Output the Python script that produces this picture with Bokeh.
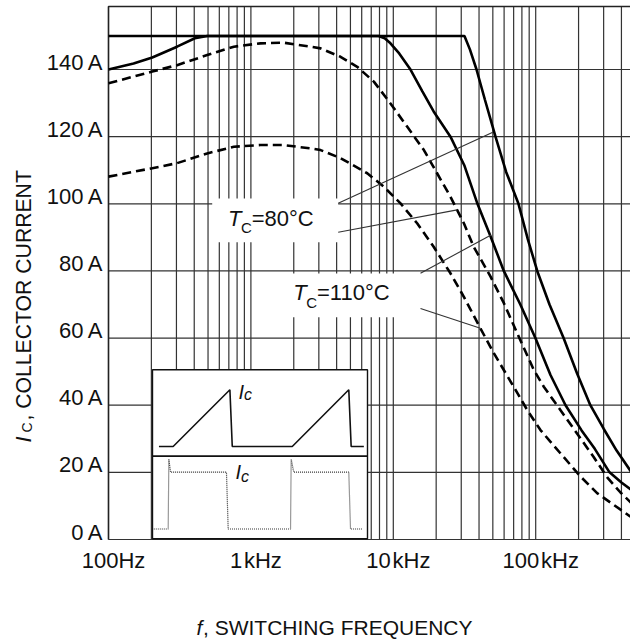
import math
from bokeh.plotting import figure
from bokeh.models import ColumnDataSource, LabelSet, Label
from bokeh.core.properties import value
from bokeh.embed import file_html
from bokeh.resources import INLINE

# ---------------- data ----------------
# solid curve, T_C = 80 C
solid80_f = [100, 31600, 34500, 38400, 44000, 52200, 62000, 75700, 88000, 102500,
             125000, 157000, 195000, 242000, 300000, 370000, 471000]
solid80_i = [150, 150, 146, 140, 131, 120, 109.5, 100, 89.5, 80,
             70, 60, 49.5, 40, 33, 26.5, 20]
# solid curve, T_C = 110 C
solid110_f = [100, 150, 203, 303, 404, 493, 7900, 8700, 9550, 11000, 13200, 16000,
              19200, 25200, 31500, 39000, 48000, 59700, 78000, 99500, 127000, 162000,
              210000, 260000, 330000, 400000, 479000]
solid110_i = [140, 141.8, 143.6, 146.8, 149.3, 150, 150, 149.3, 147.8, 144.8, 140, 133.5,
              127.5, 120, 111.5, 100, 90.5, 80, 70, 60, 49, 40,
              32.5, 27, 20, 17, 14.5]
# dashed curve, T_C = 80 C
dash80_f = [100, 203, 303, 493, 759, 1167, 1702, 2624, 3085, 4260, 5580, 7300, 9550,
            12500, 16400, 20300, 25200, 31300, 36700, 48200, 59800, 74200, 97000,
            114000, 149000, 195000, 256000, 318000, 394000, 479000]
dash80_i = [135.9, 139.4, 141.3, 144.3, 146.8, 147.8, 148.0, 146.8, 146.3, 143.8,
            140.8, 136.4, 129.9, 123.0, 116.0, 109.1, 102.1, 94.2, 87.2, 78.3, 70.4,
            61.4, 50.5, 45.5, 38.6, 31.6, 24.5, 18.5, 14.0, 10.5]
# dashed curve, T_C = 110 C
dash110_f = [100, 203, 303, 493, 759, 1167, 1702, 2624, 3085, 4260, 6560, 8570, 11200,
             14700, 19200, 25200, 31300, 40900, 50800, 70100, 87100, 108000, 149000,
             207000, 270000, 354000, 463000]
dash110_i = [108.1, 110.6, 112.1, 115.0, 117.0, 117.5, 117.5, 116.5, 116.0, 113.6,
             109.1, 105.1, 100.2, 94.2, 87.2, 79.3, 72.3, 62.9, 55.5, 45.5, 38.6,
             32.6, 25.7, 18.7, 13.8, 10.3, 6.8]

x_ticks = [100, 1000, 10000, 100000]
x_tick_labels = ["100Hz", "1\u200akHz", "10\u200akHz", "100\u200akHz"]
y_ticks = [0, 20, 40, 60, 80, 100, 120, 140]
y_tick_labels = ["0\u2009A", "20\u2009A", "40\u2009A", "60\u2009A", "80\u2009A",
                 "100\u2009A", "120\u2009A", "140\u2009A"]

# leader-line targets on the curves (Hz, A)
lead80_f = [50000, 28100]
lead80_i = [121.3, 98.2]
lead110_f = [48600, 40900]
lead110_i = [90.7, 62.9]

# inset schematic waveforms (normalised time, normalised amplitude)
saw_t = [0.03, 0.096, 0.36, 0.371, 0.65, 0.913, 0.924, 0.983]
saw_a = [0, 0, 1, 0, 0, 1, 0, 0]
sq_t = [0.006, 0.073, 0.076, 0.084, 0.344, 0.352, 0.642, 0.645, 0.657, 0.913, 0.921, 0.975]
sq_a = [0, 0, 1.23, 1, 1, 0, 0, 1.23, 1, 1, 0, 0]

# ---------------- layout / style ----------------
FONT = "Liberation Sans"
W, H = 630, 640
PL, PT, PB = 108, 6, 539        # plot-area left / top / bottom (canvas px)
PX_DEC = 142.4                  # pixels per decade
PX_AMP = 3.357                  # pixels per ampere
GRID = "#333333"


def fx(px):
    return 10 ** (2 + (px - PL) / PX_DEC)


def fy(py):
    return (PB - py) / PX_AMP


F_MIN, F_MAX = 100, fx(W)
I_TOP = fy(PT)

# the frame spans the whole canvas so that every label stays inside it;
# the visible plot area is drawn with bounded grid segments and border lines
p = figure(width=W, height=H, x_axis_type="log", x_range=(fx(0), fx(W)),
           y_range=(fy(H), fy(0)), output_backend="svg", toolbar_location=None,
           min_border=0)
p.xaxis.visible = False
p.yaxis.visible = False
p.xgrid.visible = False
p.ygrid.visible = False
p.outline_line_color = None
p.background_fill_color = "white"
p.border_fill_color = "white"

grid_ticks = [m * 10 ** e for e in range(2, 6) for m in range(1, 10) if m * 10 ** e < F_MAX]
p.segment(x0=grid_ticks, y0=[0] * len(grid_ticks), x1=grid_ticks, y1=[I_TOP] * len(grid_ticks),
          line_color=GRID, line_width=1.2)
p.segment(x0=[F_MIN] * len(y_ticks), y0=y_ticks, x1=[F_MAX] * len(y_ticks), y1=y_ticks,
          line_color=GRID, line_width=1.2)

# plot-area border (left and top)
p.line([F_MIN, F_MIN, F_MAX], [0, I_TOP, I_TOP], line_color="#222222", line_width=1.5)

# white boxes behind the temperature labels
box80 = dict(left=fx(211.7), right=fx(337.7), top=fy(198), bottom=fy(241.7))
box110 = dict(left=fx(277), right=fx(420), top=fy(273), bottom=fy(316.7))
for b in (box80, box110):
    p.quad(left=[b["left"]], right=[b["right"]], top=[b["top"]], bottom=[b["bottom"]],
           fill_color="white", line_color=None)

# inset
IX0, IX1 = 152, 367
IT, IM, IB = 369.3, 455.7, 538.3
p.quad(left=[fx(IX0)], right=[fx(IX1)], top=[fy(IT)], bottom=[fy(IB)],
       fill_color="white", line_color="#111111", line_width=1.4)
p.line([fx(IX0), fx(IX1)], [fy(IM), fy(IM)], line_color="#111111", line_width=1.8)
p.line([fx(IX0 + t * (IX1 - IX0)) for t in saw_t], [fy(446 - a * 56.7) for a in saw_a],
       line_color="#111111", line_width=1.6)
p.line([fx(IX0 + t * (IX1 - IX0)) for t in sq_t], [fy(528.5 - a * 56.8) for a in sq_a],
       line_color="#333333", line_width=1.2, line_dash="1 1")

# curves
p.line(solid80_f, solid80_i, line_color="black", line_width=2.6)
p.line(solid110_f, solid110_i, line_color="black", line_width=2.6)
p.line(dash80_f, dash80_i, line_color="black", line_width=2.6, line_dash="9 5")
p.line(dash110_f, dash110_i, line_color="black", line_width=2.6, line_dash="9 5")

# leader lines
p.segment(x0=[box80["right"]] * 2, y0=[fy(202.7), fy(231.7)], x1=lead80_f, y1=lead80_i,
          line_color="#333333", line_width=1.1)
p.segment(x0=[box110["right"]] * 2, y0=[fy(272.7), fy(308)], x1=lead110_f, y1=lead110_i,
          line_color="#333333", line_width=1.1)

# tick labels
ysrc = ColumnDataSource(dict(x=[F_MIN] * len(y_ticks), y=y_ticks, t=y_tick_labels))
p.add_layout(LabelSet(x="x", y="y", text="t", source=ysrc, x_offset=-6, y_offset=0,
                      text_align="right", text_baseline="alphabetic",
                      text_font=value(FONT), text_font_size=value("22px"),
                      text_color="#111111"))
xsrc = ColumnDataSource(dict(x=x_ticks, y=[0] * len(x_ticks), t=x_tick_labels))
p.add_layout(LabelSet(x="x", y="y", text="t", source=xsrc, x_offset=5, y_offset=-28.5,
                      text_align="center", text_baseline="alphabetic",
                      text_font=value(FONT), text_font_size=value("22px"),
                      text_color="#111111"))


def lab(text, px, cy, size, italic=False, angle=0.0):
    """px: start of the text; cy: centre line of its capitals (canvas px)."""
    if angle:
        x, y = fx(cy), fy(px)
    else:
        x, y = fx(px), fy(cy - 0.5)
    p.add_layout(Label(x=x, y=y, text=text, text_font=FONT,
                       text_font_size=size, text_font_style="italic" if italic else "normal",
                       text_align="left", text_baseline="middle", angle=angle,
                       text_color="#111111"))


# temperature labels
lab("T", 227.5, 218.4, "22px", italic=True)
lab("C", 240.5, 227.2, "15px")
lab("=80°C", 251.2, 218.4, "22px")
lab("T", 292.8, 292.5, "22px", italic=True)
lab("C", 305.8, 302, "15px")
lab("=110°C", 316.5, 292.5, "22px")

# inset labels
lab("I", 238, 391.5, "20px", italic=True)
lab("c", 243.5, 394.3, "16px", italic=True)
lab("I", 235, 471.5, "20px", italic=True)
lab("c", 240.5, 476, "16px", italic=True)

# axis titles
lab("f", 196, 627, "21px", italic=True)
lab(", SWITCHING FREQUENCY", 202.5, 627, "21px")
lab("I", 442, 22.5, "22px", italic=True, angle=math.pi / 2)
lab("C", 432, 26.5, "14px", angle=math.pi / 2)
lab(", COLLECTOR CURRENT", 420, 22.5, "21.2px", angle=math.pi / 2)

open("out.html", "w").write(file_html(p, INLINE))
